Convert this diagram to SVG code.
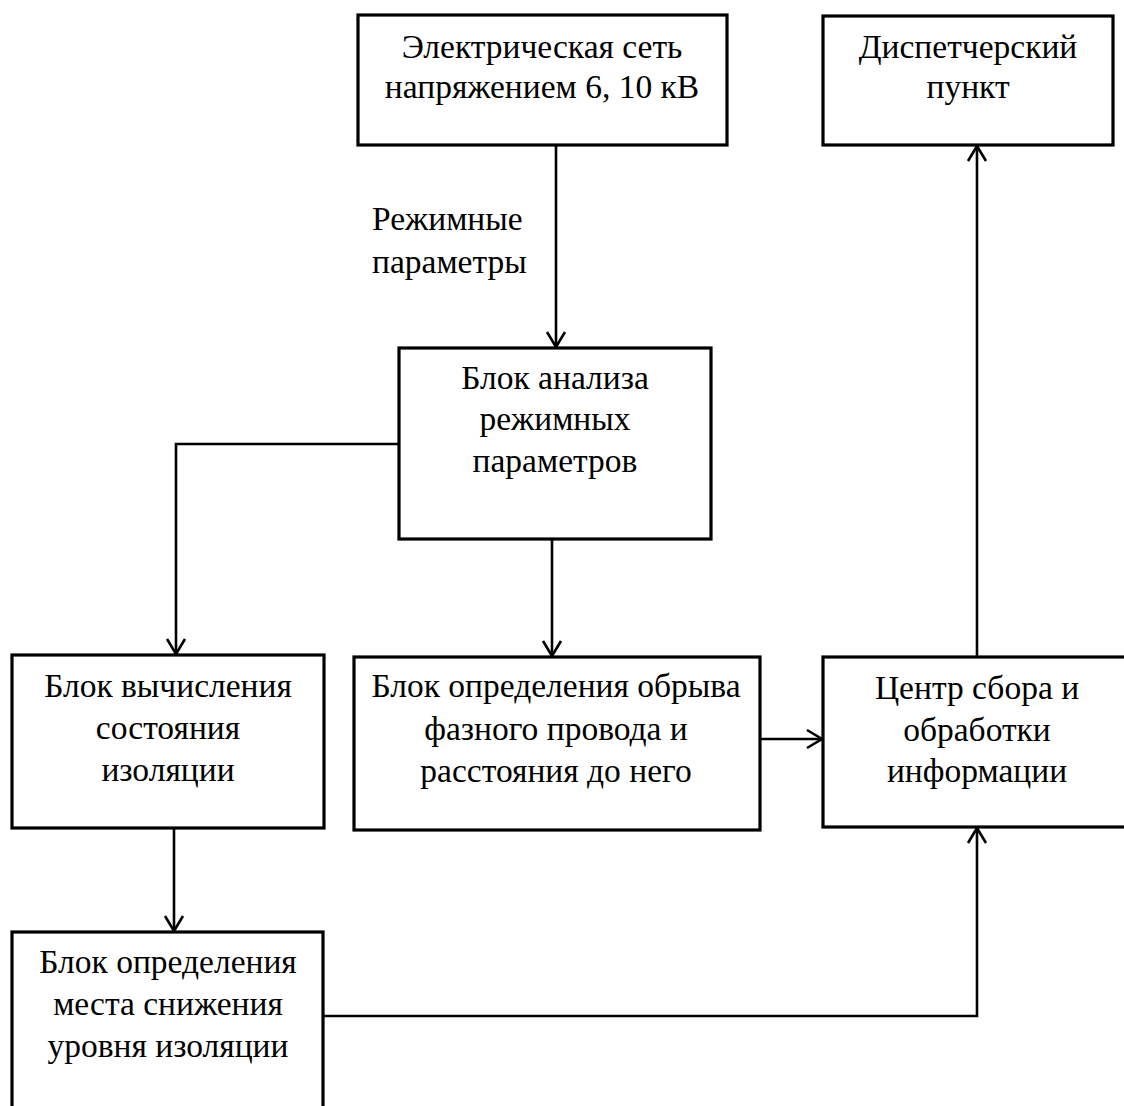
<svg xmlns="http://www.w3.org/2000/svg" width="1124" height="1106" viewBox="0 0 1124 1106">
<style>
.box{fill:#fff;stroke:#000;stroke-width:3.2}
.t{font-family:"Liberation Serif","Times New Roman",serif;font-size:33.5px;fill:#000;text-anchor:middle}
.lbl{font-family:"Liberation Serif","Times New Roman",serif;font-size:33.5px;fill:#000}
.c{fill:none;stroke:#000;stroke-width:2.6;marker-end:url(#arr)}
</style>
<defs>
<marker id="arr" markerUnits="userSpaceOnUse" viewBox="-17 -11 20 22" markerWidth="20" markerHeight="22" refX="0" refY="0" orient="auto">
<path d="M-15,-9 L0,0 L-15,9" fill="none" stroke="#000" stroke-width="2.6"/>
</marker>
</defs>
<rect width="1124" height="1106" fill="#fff"/>
<g id="connectors">
<path class="c" d="M556,145 V347"/>
<path class="c" d="M399,444 H176 V654"/>
<path class="c" d="M552,539 V656"/>
<path class="c" d="M760,739 H822"/>
<path class="c" d="M977,657 V146"/>
<path class="c" d="M174,828 V931"/>
<path class="c" d="M323,1016 H977 V828"/>
</g>
<g id="net">
<rect class="box" x="358" y="15" width="369" height="130"/>
<text class="t" x="542" y="58">Электрическая сеть</text>
<text class="t" x="542" y="98">напряжением 6, 10 кВ</text>
</g>
<g id="dispatch">
<rect class="box" x="823" y="16" width="290" height="129"/>
<text class="t" x="968" y="58">Диспетчерский</text>
<text class="t" x="968" y="98">пункт</text>
</g>
<g id="label">
<text class="lbl" x="372" y="230">Режимные</text>
<text class="lbl" x="372" y="273">параметры</text>
</g>
<g id="analysis">
<rect class="box" x="399" y="348" width="312" height="191"/>
<text class="t" x="555" y="389">Блок анализа</text>
<text class="t" x="555" y="430">режимных</text>
<text class="t" x="555" y="472">параметров</text>
</g>
<g id="insulation">
<rect class="box" x="12" y="655" width="312" height="173"/>
<text class="t" x="168" y="697">Блок вычисления</text>
<text class="t" x="168" y="739">состояния</text>
<text class="t" x="168" y="781">изоляции</text>
</g>
<g id="break">
<rect class="box" x="354" y="657" width="406" height="173"/>
<text class="t" x="556" y="697">Блок определения обрыва</text>
<text class="t" x="556" y="740">фазного провода и</text>
<text class="t" x="556" y="782">расстояния до него</text>
</g>
<g id="center">
<rect class="box" x="823" y="657" width="310" height="170"/>
<text class="t" x="977" y="699">Центр сбора и</text>
<text class="t" x="977" y="741">обработки</text>
<text class="t" x="977" y="782">информации</text>
</g>
<g id="location">
<rect class="box" x="12" y="932" width="311" height="190"/>
<text class="t" x="168" y="973">Блок определения</text>
<text class="t" x="168" y="1015">места снижения</text>
<text class="t" x="168" y="1057">уровня изоляции</text>
</g>
</svg>
